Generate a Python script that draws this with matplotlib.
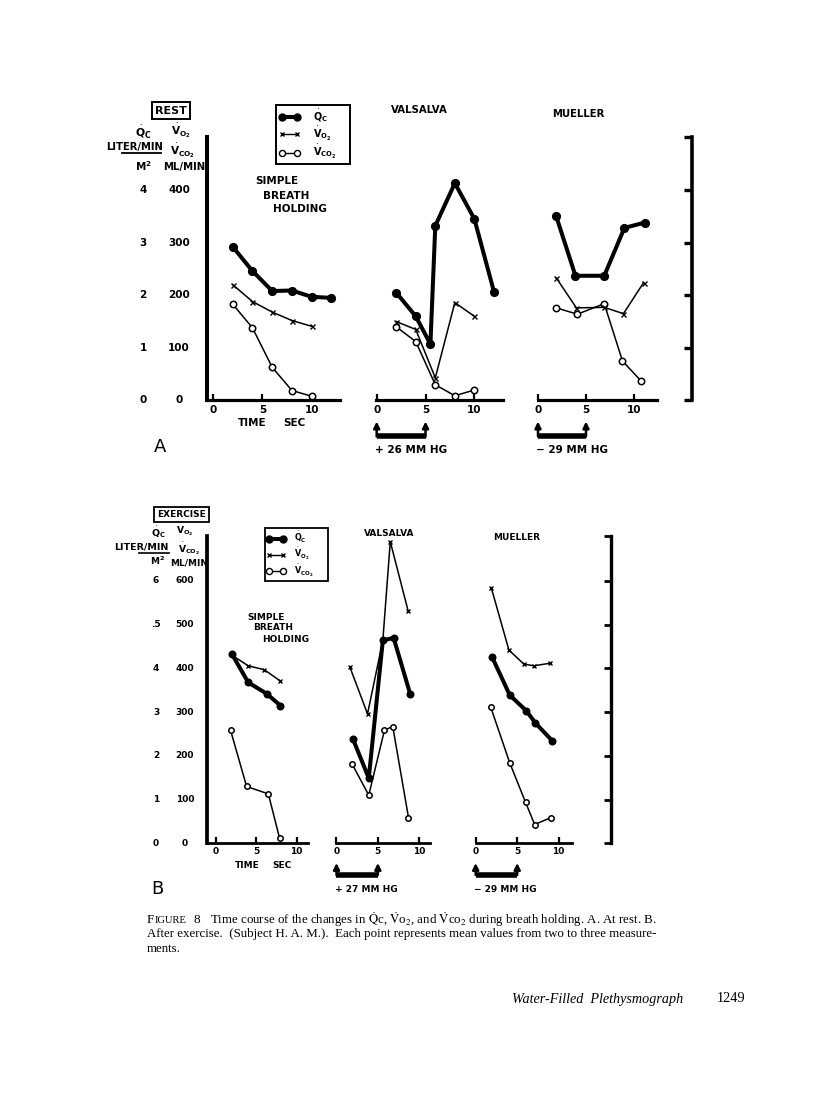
import matplotlib
matplotlib.use("Agg")
import matplotlib.pyplot as plt
from matplotlib.lines import Line2D
from matplotlib.transforms import blended_transform_factory as btf

plt.rcParams['font.family'] = ['DejaVu Sans']
plt.rcParams['mathtext.fontset'] = 'dejavusans'

W, H = 816, 1100

# ---------------- data ----------------
# Qc in liter/min/m2 ; Vo2, Vco2 in ml/min ; time in sec
# A. REST
rest_simple_qc_t = [2, 4, 6, 8, 10, 12]
rest_simple_qc = [2.92, 2.46, 2.08, 2.09, 1.97, 1.95]
rest_simple_vo2_t = [2, 4, 6, 8, 10]
rest_simple_vo2 = [220, 188, 168, 152, 141]
rest_simple_vco2_t = [2, 4, 6, 8, 10]
rest_simple_vco2 = [183, 138, 63, 19, 8]

rest_vals_qc_t = [2, 4, 5.5, 6, 8, 10, 12]
rest_vals_qc = [2.05, 1.60, 1.07, 3.32, 4.13, 3.45, 2.07]
rest_vals_vo2_t = [2, 4, 6, 8, 10]
rest_vals_vo2 = [150, 135, 43, 186, 160]
rest_vals_vco2_t = [2, 4, 6, 8, 10]
rest_vals_vco2 = [140, 112, 30, 9, 20]

rest_muel_qc_t = [1.9, 3.9, 6.9, 9.0, 11.1]
rest_muel_qc = [3.50, 2.37, 2.37, 3.28, 3.38]
rest_muel_vo2_t = [1.9, 4.0, 6.9, 8.9, 11.0]
rest_muel_vo2 = [233, 176, 177, 165, 224]
rest_muel_vco2_t = [1.9, 4.1, 6.9, 8.8, 10.7]
rest_muel_vco2 = [176, 164, 184, 75, 38]

# B. EXERCISE
ex_simple_qc_t = [2, 4, 6.3, 8]
ex_simple_qc = [4.32, 3.68, 3.42, 3.15]
ex_simple_vo2_t = [2, 4, 6, 8]
ex_simple_vo2 = [430, 406, 397, 371]
ex_simple_vco2_t = [1.8, 3.8, 6.5, 7.9]
ex_simple_vco2 = [259, 130, 113, 11]

ex_vals_qc_t = [2, 3.9, 5.6, 6.9, 8.9]
ex_vals_qc = [2.38, 1.49, 4.64, 4.70, 3.42]
ex_vals_vo2_t = [1.6, 3.75, 5.6, 6.5, 8.65]
ex_vals_vo2 = [404, 296, 464, 690, 532]
ex_vals_vco2_t = [1.9, 3.9, 5.8, 6.8, 8.7]
ex_vals_vco2 = [181, 110, 259, 267, 59]

ex_muel_qc_t = [2.0, 4.1, 6.1, 7.2, 9.2]
ex_muel_qc = [4.25, 3.39, 3.03, 2.75, 2.35]
ex_muel_vo2_t = [1.9, 4.0, 5.8, 7.0, 9.0]
ex_muel_vo2 = [583, 442, 410, 406, 412]
ex_muel_vco2_t = [1.8, 4.1, 6.0, 7.1, 9.1]
ex_muel_vco2 = [312, 184, 94, 43, 59]

# axis labels / ticks
x_ticks = [0, 5, 10]
x_ticklabels = ['0', '5', '10']
rest_ml_ticks = [0, 100, 200, 300, 400]
rest_q_labels = ['0', '1', '2', '3', '4']
ex_ml_ticks = [0, 100, 200, 300, 400, 500, 600]
ex_q_labels = ['0', '1', '2', '3', '4', '.5', '6']
pressure_t = [0, 5]
rest_pressures = ['+ 26 MM HG', '\u2212 29 MM HG']
ex_pressures = ['+ 27 MM HG', '\u2212 29 MM HG']

QC_LBL = r'$\dot{\mathbf{Q}}_\mathbf{C}$'
VO2_LBL = r'$\dot{\mathbf{V}}_{\mathbf{O_2}}$'
VCO2_LBL = r'$\dot{\mathbf{V}}_{\mathbf{CO_2}}$'

fig = plt.figure(figsize=(W / 100, H / 100), dpi=100)


def T(x, y, s, size=7.5, ha='left', va='center', weight='bold', **kw):
    return fig.text(x / W, 1 - y / H, s, fontsize=size, ha=ha, va=va,
                    fontweight=weight, **kw)


def hline(x0, x1, y, lw=1.2):
    fig.add_artist(Line2D([x0 / W, x1 / W], [1 - y / H, 1 - y / H],
                          transform=fig.transFigure, color='k', lw=lw))


def make_ax(x0, x1, ytop, ybot, xlim, ylim, fs):
    ax = fig.add_axes([x0 / W, 1 - ybot / H, (x1 - x0) / W, (ybot - ytop) / H])
    ax.set_xlim(*xlim)
    ax.set_ylim(*ylim)
    ax.patch.set_alpha(0)
    for s in ax.spines.values():
        s.set_visible(False)
    ax.spines['bottom'].set_visible(True)
    ax.spines['bottom'].set_linewidth(2.3)
    ax.set_xticks(x_ticks)
    ax.set_xticklabels(x_ticklabels, fontweight='bold')
    ax.tick_params(axis='x', direction='in', length=4, width=1.6, pad=3,
                   labelsize=fs)
    ax.set_yticks([])
    return ax


def draw_series(ax, qt, qv, vt, vv, ct, cv, scale):
    ax.plot(ct, cv, color='k', lw=1.1, marker='o', ms=4.6 * scale,
            mfc='white', mec='k', mew=1.1, clip_on=False, zorder=3)
    ax.plot(vt, vv, color='k', lw=1.1, marker='x', ms=3.6 * scale,
            mew=1.0, clip_on=False, zorder=3)
    ax.plot(qt, [q * 100 for q in qv], color='k', lw=2.9, marker='o',
            ms=5.6 * scale, mfc='k', mec='k', clip_on=False, zorder=4)


def pressure_bar(ax, y_tip, y_bar, label, fs, lab_y):
    ax.plot(pressure_t, [y_bar, y_bar], color='k', lw=4.0,
            solid_capstyle='butt', clip_on=False)
    for t in pressure_t:
        ax.annotate('', xy=(t, y_tip), xytext=(t, y_bar),
                    xycoords='data', textcoords='data', annotation_clip=False,
                    arrowprops=dict(arrowstyle='-|>', lw=1.8, color='k',
                                    mutation_scale=9, shrinkA=0, shrinkB=0))
    ax.text(pressure_t[0] - 0.2, lab_y, label, fontsize=fs, fontweight='bold',
            ha='left', va='center', clip_on=False)


# ============================ PANEL A : REST ============================
A_y0, A_k = 400.5, 0.52625        # pixel of 0 and px per unit
A_ylim = (0, 500)
A_top = A_y0 - A_ylim[1] * A_k

a1 = make_ax(207, 340, A_top, A_y0, (-0.61, 12.87), A_ylim, 7.5)
a1.spines['left'].set_visible(True)
a1.spines['left'].set_linewidth(2.9)
a2 = make_ax(376, 503, A_top, A_y0, (-0.07, 12.93), A_ylim, 7.5)
a3 = make_ax(538, 692, A_top, A_y0, (0, 16.04), A_ylim, 7.5)
a3.spines['bottom'].set_bounds(0, 12.4)
a3.spines['right'].set_visible(True)
a3.spines['right'].set_linewidth(2.6)
a3.yaxis.tick_right()
a3.set_yticks(rest_ml_ticks + [A_ylim[1]])
a3.tick_params(axis='y', direction='in', length=6, width=2.4,
               labelright=False)

draw_series(a1, rest_simple_qc_t, rest_simple_qc, rest_simple_vo2_t,
            rest_simple_vo2, rest_simple_vco2_t, rest_simple_vco2, 1.0)
draw_series(a2, rest_vals_qc_t, rest_vals_qc, rest_vals_vo2_t,
            rest_vals_vo2, rest_vals_vco2_t, rest_vals_vco2, 1.0)
draw_series(a3, rest_muel_qc_t, rest_muel_qc, rest_muel_vo2_t,
            rest_muel_vo2, rest_muel_vco2_t, rest_muel_vco2, 1.0)

trA = btf(fig.transFigure, a1.transData)
for v, q in zip(rest_ml_ticks, rest_q_labels):
    a1.text(143 / W, v, q, transform=trA, fontsize=7.5, fontweight='bold',
            ha='center', va='center')
    a1.text(179 / W, v, str(v), transform=trA, fontsize=7.5,
            fontweight='bold', ha='center', va='center')

pressure_bar(a2, (A_y0 - 421.5) / A_k, (A_y0 - 436.5) / A_k, rest_pressures[0],
             7.5, (A_y0 - 450) / A_k)
pressure_bar(a3, (A_y0 - 421.5) / A_k, (A_y0 - 436.5) / A_k, rest_pressures[1],
             7.5, (A_y0 - 450) / A_k)

T(171, 110.5, 'REST', size=8, ha='center',
  bbox=dict(boxstyle='square,pad=0.3', fc='white', ec='k', lw=1.4))
T(143, 132, QC_LBL, size=7.8, ha='center')
T(181, 131, VO2_LBL, size=7.6, ha='center')
T(135, 147, 'LITER/MIN', size=7.2, ha='center')
hline(122, 161, 152.5, lw=1.3)
T(183, 151, VCO2_LBL, size=7.6, ha='center')
T(143, 166, r'$\mathbf{M^2}$', size=7.5, ha='center')
T(184, 167, 'ML/MIN', size=7.3, ha='center')

T(255, 181.5, 'SIMPLE', size=7.5)
T(263, 196, 'BREATH', size=7.5)
T(273, 209.5, 'HOLDING', size=7.5)
T(252, 423.5, 'TIME', size=7.5, ha='center')
T(294, 423.5, 'SEC', size=7.5, ha='center')
T(160, 447, 'A', size=13, ha='center', weight='normal')
T(419, 110, 'VALSALVA', size=7.3, ha='center')
T(578, 114, 'MUELLER', size=7.3, ha='center')

hq, = a1.plot([], [], color='k', lw=2.9, marker='o', ms=5, mfc='k')
hv, = a1.plot([], [], color='k', lw=1.0, marker='x', ms=3.4, mew=1.0)
hc, = a1.plot([], [], color='k', lw=1.0, marker='o', ms=4.4, mfc='white')
legA = fig.legend([hq, hv, hc], [QC_LBL, VO2_LBL, VCO2_LBL],
                  loc='upper left',
                  bbox_to_anchor=(276 / W, 1 - 160 / H, 74 / W, 55 / H),
                  mode='expand',
                  borderaxespad=0, frameon=True, fancybox=False,
                  edgecolor='k', framealpha=1, numpoints=2,
                  handlelength=2.2, handletextpad=1.3, labelspacing=0.02,
                  borderpad=0.28, prop={'size': 7.0, 'weight': 'bold'})
legA.get_frame().set_linewidth(1.4)

# ========================== PANEL B : EXERCISE ==========================
B_y0, B_k = 843.3, 0.4372
B_ylim = (0, 703)
B_top = B_y0 - B_ylim[1] * B_k

b1 = make_ax(207.3, 308, B_top, B_y0, (-1.08, 11.42), B_ylim, 6.5)
b1.spines['left'].set_visible(True)
b1.spines['left'].set_linewidth(2.7)
b2 = make_ax(336, 430, B_top, B_y0, (-0.06, 11.3), B_ylim, 6.5)
b3 = make_ax(475.7, 611, B_top, B_y0, (0, 16.3), B_ylim, 6.5)
b3.spines['bottom'].set_bounds(0, 11.57)
b3.spines['right'].set_visible(True)
b3.spines['right'].set_linewidth(2.4)
b3.yaxis.tick_right()
b3.set_yticks(ex_ml_ticks + [B_ylim[1]])
b3.tick_params(axis='y', direction='in', length=5, width=2.0,
               labelright=False)
for ax in (b1, b2, b3):
    ax.spines['bottom'].set_linewidth(2.0)

draw_series(b1, ex_simple_qc_t, ex_simple_qc, ex_simple_vo2_t,
            ex_simple_vo2, ex_simple_vco2_t, ex_simple_vco2, 0.85)
draw_series(b2, ex_vals_qc_t, ex_vals_qc, ex_vals_vo2_t,
            ex_vals_vo2, ex_vals_vco2_t, ex_vals_vco2, 0.85)
draw_series(b3, ex_muel_qc_t, ex_muel_qc, ex_muel_vo2_t,
            ex_muel_vo2, ex_muel_vco2_t, ex_muel_vco2, 0.85)

trB = btf(fig.transFigure, b1.transData)
for v, q in zip(ex_ml_ticks, ex_q_labels):
    b1.text(156 / W, v, q, transform=trB, fontsize=6.5, fontweight='bold',
            ha='center', va='center')
    b1.text(185 / W, v, str(v), transform=trB, fontsize=6.5,
            fontweight='bold', ha='center', va='center')

pressure_bar(b2, (B_y0 - 863) / B_k, (B_y0 - 875) / B_k, ex_pressures[0],
             6.5, (B_y0 - 889) / B_k)
pressure_bar(b3, (B_y0 - 863) / B_k, (B_y0 - 875) / B_k, ex_pressures[1],
             6.5, (B_y0 - 889) / B_k)

T(181.5, 514.5, 'EXERCISE', size=6.5, ha='center',
  bbox=dict(boxstyle='square,pad=0.3', fc='white', ec='k', lw=1.3))
T(158, 532, QC_LBL, size=6.8, ha='center')
T(185, 530, VO2_LBL, size=6.6, ha='center')
T(141, 547, 'LITER/MIN', size=6.8, ha='center')
hline(139, 169, 552.5, lw=1.2)
T(189, 549, VCO2_LBL, size=6.6, ha='center')
T(157, 561, r'$\mathbf{M^2}$', size=6.5, ha='center')
T(189, 563, 'ML/MIN', size=6.5, ha='center')

T(247, 617, 'SIMPLE', size=6.5)
T(253, 628, 'BREATH', size=6.5)
T(262, 639, 'HOLDING', size=6.5)
T(247, 865, 'TIME', size=6.5, ha='center')
T(282, 865, 'SEC', size=6.5, ha='center')
T(157, 889, 'B', size=13, ha='center', weight='normal')
T(389, 534, 'VALSALVA', size=6.5, ha='center')
T(517, 537, 'MUELLER', size=6.5, ha='center')

legB = fig.legend([hq, hv, hc], [QC_LBL, VO2_LBL, VCO2_LBL],
                  loc='upper left',
                  bbox_to_anchor=(265 / W, 1 - 573 / H, 63 / W, 45 / H),
                  mode='expand',
                  borderaxespad=0, frameon=True, fancybox=False,
                  edgecolor='k', framealpha=1, numpoints=2,
                  handlelength=2.3, handletextpad=1.0, labelspacing=0.02,
                  borderpad=0.25, prop={'size': 5.8, 'weight': 'bold'})
legB.get_frame().set_linewidth(1.3)

# =============================== CAPTION ===============================
cap_font = dict(family='Liberation Serif', weight='normal')
T(147, 920, 'F', size=9.5, **cap_font)
T(154.5, 920.5, 'IGURE', size=7.6, **cap_font)
T(193, 920, '8', size=9.5, **cap_font)
T(210, 920,
  r'Time course of the changes in $\dot{\rm Q}$c, $\dot{\rm V}$o$_2$, and '
  r'$\dot{\rm V}$co$_2$ during breath holding. A. At rest. B.',
  size=9.3, math_fontfamily='stix', **cap_font)
T(147, 934.5, 'After exercise.  (Subject H. A. M.).  Each point represents '
  'mean values from two to three measure-', size=9.3, **cap_font)
T(147, 948.5, 'ments.', size=9.3, **cap_font)

T(512, 999, 'Water-Filled  Plethysmograph', size=10.2,
  family='Liberation Serif', weight='normal', style='italic')
T(717, 999, '1249', size=10.3, family='Liberation Serif', weight='normal')

fig.savefig('out.png', dpi=100)
